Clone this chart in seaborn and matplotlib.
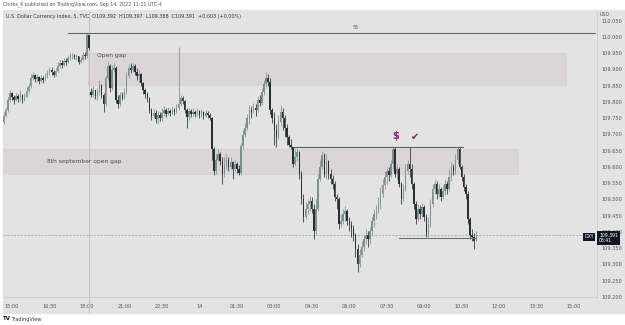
import numpy as np
import pandas as pd
import matplotlib
matplotlib.use('Agg')
import matplotlib.pyplot as plt
from matplotlib.patches import Rectangle
import seaborn as sns

# 5분봉 DXY 데이터
first_open = 109.737
gap_bar, gap_open = 38, 109.831

closes = [
    109.758, 109.776, 109.807, 109.828, 109.816, 109.807, 109.819, 109.810, 109.822, 109.807,
    109.816, 109.835, 109.850, 109.874, 109.884, 109.871, 109.877, 109.865, 109.874, 109.868,
    109.880, 109.890, 109.899, 109.893, 109.884, 109.896, 109.911, 109.920, 109.914, 109.926,
    109.923, 109.936, 109.942, 109.945, 109.939, 109.942, 109.923, 109.929, 109.945, 109.942,
    110.006, 109.966, 109.822, 109.838, 109.819, 109.831, 109.853, 109.822, 109.795, 109.874,
    109.911, 109.844, 109.899, 109.905, 109.807, 109.795, 109.822, 109.813, 109.831, 109.880,
    109.905, 109.899, 109.911, 109.893, 109.880, 109.887, 109.859, 109.838, 109.825, 109.813,
    109.776, 109.758, 109.767, 109.749, 109.761, 109.752, 109.767, 109.776, 109.764, 109.773,
    109.767, 109.776, 109.770, 109.783, 109.795, 109.813, 109.804, 109.776, 109.755, 109.773,
    109.764, 109.770, 109.764, 109.773, 109.761, 109.770, 109.758, 109.767, 109.761, 109.752,
    109.654, 109.587, 109.623, 109.639, 109.617, 109.578, 109.605, 109.623, 109.599, 109.614,
    109.593, 109.608, 109.593, 109.581, 109.666, 109.697, 109.721, 109.752, 109.776, 109.770,
    109.783, 109.776, 109.807, 109.798, 109.831, 109.856, 109.874, 109.862, 109.776, 109.752,
    109.715, 109.691, 109.740, 109.770, 109.752, 109.721, 109.691, 109.669, 109.660, 109.608,
    109.630, 109.645, 109.578, 109.501, 109.447, 109.471, 109.486, 109.495, 109.471, 109.404,
    109.471, 109.562, 109.599, 109.636, 109.578, 109.617, 109.578, 109.562, 109.547, 109.508,
    109.501, 109.425, 109.434, 109.456, 109.465, 109.434, 109.422, 109.410, 109.392, 109.348,
    109.303, 109.330, 109.355, 109.379, 109.392, 109.379, 109.404, 109.434, 109.456, 109.465,
    109.486, 109.517, 109.544, 109.568, 109.587, 109.574, 109.608, 109.654, 109.578, 109.593,
    109.547, 109.501, 109.532, 109.587, 109.608, 109.593, 109.547, 109.486, 109.440, 109.471,
    109.456, 109.477, 109.447, 109.395, 109.425, 109.486, 109.532, 109.547, 109.517, 109.532,
    109.508, 109.526, 109.547, 109.532, 109.568, 109.599, 109.587, 109.623, 109.654, 109.599,
    109.568, 109.538, 109.517, 109.440, 109.392, 109.386, 109.373, 109.391,
]
highs = [
    109.770, 109.783, 109.816, 109.838, 109.831, 109.822, 109.828, 109.825, 109.838, 109.825,
    109.828, 109.847, 109.859, 109.887, 109.893, 109.887, 109.887, 109.880, 109.884, 109.880,
    109.890, 109.899, 109.908, 109.908, 109.899, 109.905, 109.923, 109.929, 109.929, 109.936,
    109.936, 109.945, 109.951, 109.951, 109.948, 109.948, 109.942, 109.939, 109.954, 109.954,
    110.012, 109.981, 109.844, 109.850, 109.838, 109.844, 109.868, 109.856, 109.828, 109.884,
    109.923, 109.917, 109.914, 109.920, 109.911, 109.822, 109.831, 109.831, 109.844, 109.893,
    109.917, 109.920, 109.920, 109.917, 109.905, 109.899, 109.890, 109.862, 109.844, 109.831,
    109.816, 109.783, 109.779, 109.776, 109.773, 109.770, 109.783, 109.789, 109.783, 109.786,
    109.779, 109.789, 109.783, 109.795, 109.969, 109.822, 109.819, 109.807, 109.783, 109.783,
    109.779, 109.783, 109.776, 109.783, 109.776, 109.779, 109.773, 109.776, 109.773, 109.767,
    109.755, 109.660, 109.639, 109.654, 109.645, 109.630, 109.630, 109.639, 109.630, 109.630,
    109.617, 109.623, 109.614, 109.605, 109.673, 109.715, 109.734, 109.764, 109.792, 109.789,
    109.798, 109.795, 109.819, 109.822, 109.844, 109.868, 109.893, 109.887, 109.874, 109.783,
    109.770, 109.731, 109.761, 109.792, 109.783, 109.761, 109.731, 109.697, 109.685, 109.663,
    109.654, 109.654, 109.648, 109.587, 109.517, 109.492, 109.501, 109.511, 109.508, 109.486,
    109.501, 109.578, 109.623, 109.648, 109.642, 109.639, 109.623, 109.593, 109.574, 109.556,
    109.517, 109.508, 109.456, 109.471, 109.480, 109.471, 109.447, 109.434, 109.422, 109.398,
    109.364, 109.348, 109.373, 109.392, 109.410, 109.404, 109.416, 109.447, 109.471, 109.483,
    109.508, 109.538, 109.562, 109.587, 109.599, 109.599, 109.623, 109.663, 109.660, 109.608,
    109.599, 109.553, 109.547, 109.608, 109.623, 109.663, 109.608, 109.553, 109.495, 109.486,
    109.483, 109.489, 109.483, 109.456, 109.447, 109.501, 109.547, 109.562, 109.556, 109.547,
    109.538, 109.544, 109.562, 109.556, 109.593, 109.614, 109.608, 109.639, 109.663, 109.663,
    109.605, 109.578, 109.547, 109.526, 109.447, 109.410, 109.398, 109.404,
]
lows = [
    109.731, 109.755, 109.770, 109.801, 109.807, 109.795, 109.804, 109.801, 109.804, 109.798,
    109.804, 109.813, 109.828, 109.844, 109.868, 109.862, 109.862, 109.856, 109.862, 109.859,
    109.865, 109.874, 109.884, 109.884, 109.877, 109.880, 109.893, 109.905, 109.905, 109.911,
    109.914, 109.920, 109.929, 109.932, 109.932, 109.929, 109.917, 109.920, 109.926, 109.932,
    109.936, 109.960, 109.816, 109.816, 109.810, 109.807, 109.822, 109.813, 109.770, 109.789,
    109.868, 109.831, 109.838, 109.893, 109.798, 109.783, 109.789, 109.807, 109.810, 109.825,
    109.874, 109.890, 109.893, 109.884, 109.868, 109.862, 109.850, 109.825, 109.813, 109.801,
    109.767, 109.746, 109.752, 109.734, 109.731, 109.743, 109.743, 109.758, 109.755, 109.761,
    109.758, 109.764, 109.761, 109.767, 109.776, 109.789, 109.795, 109.767, 109.721, 109.746,
    109.755, 109.758, 109.755, 109.758, 109.752, 109.755, 109.749, 109.755, 109.752, 109.746,
    109.623, 109.574, 109.578, 109.617, 109.605, 109.547, 109.568, 109.593, 109.587, 109.593,
    109.562, 109.587, 109.581, 109.574, 109.574, 109.654, 109.691, 109.715, 109.731, 109.752,
    109.767, 109.758, 109.770, 109.789, 109.792, 109.822, 109.844, 109.850, 109.764, 109.734,
    109.669, 109.660, 109.685, 109.727, 109.715, 109.691, 109.669, 109.660, 109.654, 109.599,
    109.605, 109.617, 109.562, 109.486, 109.431, 109.440, 109.456, 109.465, 109.459, 109.379,
    109.395, 109.465, 109.556, 109.593, 109.568, 109.562, 109.562, 109.547, 109.532, 109.495,
    109.471, 109.410, 109.416, 109.425, 109.434, 109.422, 109.404, 109.386, 109.373, 109.324,
    109.278, 109.293, 109.324, 109.342, 109.364, 109.355, 109.364, 109.392, 109.416, 109.440,
    109.459, 109.471, 109.508, 109.532, 109.547, 109.556, 109.568, 109.593, 109.568, 109.562,
    109.538, 109.486, 109.495, 109.526, 109.578, 109.568, 109.532, 109.471, 109.425, 109.434,
    109.440, 109.447, 109.434, 109.386, 109.386, 109.416, 109.477, 109.517, 109.501, 109.508,
    109.495, 109.501, 109.514, 109.517, 109.526, 109.556, 109.574, 109.578, 109.608, 109.593,
    109.556, 109.526, 109.501, 109.425, 109.379, 109.373, 109.348, 109.379,
]

time_ticks = [0, 18, 36, 54, 72, 90, 108, 126, 144, 162, 180, 198, 216, 234, 252, 270]
time_labels = ['15:00', '16:30', '18:00', '21:00', '22:30', '14', '01:30', '03:00',
               '04:30', '06:00', '07:30', '09:00', '10:30', '12:00', '13:30', '15:00']
price_ticks = [110.050, 110.000, 109.950, 109.900, 109.850, 109.800, 109.750, 109.700,
               109.650, 109.600, 109.550, 109.500, 109.450, 109.400, 109.350, 109.300,
               109.250, 109.200]

# 박스 (gap 구간)
zone_names = ['Open gap', '8th september open gap']
zone_x0 = [36.5, -4.3]
zone_x1 = [266, 243]
zone_lo = [109.853, 109.578]
zone_hi = [109.951, 109.654]
zone_text_x = [41, 16.8]
zone_text_y = [109.942, 109.616]

top_level, top_x = 110.012, (27, 280)
res_level, res_x = 109.663, (135, 216.5)
sup_level, sup_x = 109.383, (186, 223)
last_price = 109.391
session_bar = 37

# 데이터프레임
df = pd.DataFrame({'bar': np.arange(-4, -4 + len(closes)), 'close': closes,
                   'high': highs, 'low': lows})
opens = np.r_[first_open, df['close'].values[:-1]]
opens[df['bar'].values == gap_bar] = gap_open
df['open'] = opens
df['high'] = np.maximum(df['high'], df[['open', 'close']].max(axis=1))
df['low'] = np.minimum(df['low'], df[['open', 'close']].min(axis=1))
df['up'] = df['close'] >= df['open']

sns.set_style('white')
plt.rcParams['font.family'] = ['DejaVu Sans']

W, H = 625, 325
bg = '#e3e3e3'
fig = plt.figure(figsize=(6.25, 3.25), dpi=100)
fig.patches.append(Rectangle((3 / W, 1 - 313 / H), 622 / W, 303 / H,
                             transform=fig.transFigure, color=bg, zorder=-10))
ax = fig.add_axes([3 / W, 1 - 297 / H, 594 / W, 286 / H])
ax.set_zorder(1)
ax.set_facecolor(bg)

# zones
for n, x0, x1, lo, hi, tx, ty in zip(zone_names, zone_x0, zone_x1, zone_lo, zone_hi,
                                     zone_text_x, zone_text_y):
    ax.add_patch(Rectangle((x0, lo), x1 - x0, hi - lo, facecolor='#dad5d7',
                           edgecolor='#d2cdcf', lw=0.4, zorder=1))
    ax.text(tx, ty, n, fontsize=4.3, color='#4a4a4a', va='center', zorder=5)

ax.axvline(session_bar, ymin=-16 / 286, ymax=1, color='#bdbdbd', lw=0.6,
           clip_on=False, zorder=2)
ax.axhline(last_price, color='#9a9a9a', lw=0.5, ls=(0, (3, 2)), zorder=2)

# candles
up_c, dn_c = '#7f8f8e', '#263030'
cols = np.where(df['up'], up_c, dn_c)
ax.vlines(df['bar'], df['low'], df['high'], colors=cols, lw=0.55, zorder=3)
body = (df['close'] - df['open']).abs().clip(lower=0.0015)
ax.bar(df['bar'], body, bottom=df[['open', 'close']].min(axis=1), width=0.7,
       color=cols, lw=0, zorder=4)

# drawn lines
ax.plot(top_x, [top_level] * 2, color='#5d6666', lw=0.8, zorder=5)
ax.text(165, top_level + 0.012, '55', fontsize=3.5, color='#666', ha='center')
ax.plot(res_x, [res_level] * 2, color='#566060', lw=0.8, zorder=5)
ax.plot(sup_x, [sup_level] * 2, color='#6a7272', lw=0.8, zorder=5)

ax.text(184.3, 109.694, '$', fontsize=7, color='#8e1b5e', fontweight='bold',
        ha='center', va='center', zorder=6)
ax.text(193.5, 109.692, '\u2714', fontsize=7, color='#8e1b5e', ha='center',
        va='center', zorder=6)

ax.set_xlim(-4.3, 281)
ax.set_ylim(109.205, 110.080)
ax.yaxis.tick_right()
ax.set_yticks(price_ticks)
ax.set_yticklabels(['%.3f' % p for p in price_ticks])
ax.set_xticks(time_ticks)
ax.set_xticklabels(time_labels)
ax.tick_params(axis='both', length=0, labelsize=3.6, labelcolor='#555555')
ax.tick_params(axis='y', pad=3)
ax.tick_params(axis='x', pad=5)
for s in ['top', 'left']:
    ax.spines[s].set_visible(False)
for s in ['right', 'bottom']:
    ax.spines[s].set_color('#cccccc')
    ax.spines[s].set_linewidth(0.6)
ax.set_xlabel('')
ax.set_ylabel('')

# 텍스트
fig.text(3 / W, 1 - 4.5 / H, 'Chirbs_K published on TradingView.com, Sep 14, 2022 11:11 UTC-4',
         fontsize=3.4, color='#555555', va='center')
fig.text(6 / W, 1 - 16.5 / H,
         'U.S. Dollar Currency Index, 5, TVC  O109.392  H109.397  L109.388  C109.391  +0.003 (+0.00%)',
         fontsize=3.5, color='#333333', va='center', zorder=10)
fig.text(600 / W, 1 - 14 / H, 'USD', fontsize=3.4, color='#555555', va='center', zorder=10)
fig.text(589 / W, 1 - 237 / H, 'DXY', fontsize=3.3, color='white', va='center', ha='center',
         bbox=dict(facecolor='#131722', edgecolor='none', pad=1.2), zorder=10)
fig.text(599 / W, 1 - 238 / H, '109.391\n03:41', fontsize=3.3, color='white', va='center',
         linespacing=1.1, bbox=dict(facecolor='#131722', edgecolor='none', pad=1.2), zorder=10)
fig.text(3 / W, 1 - 319 / H, 'TV', fontsize=4, color='#131722', fontweight='bold', va='center')
fig.text(11 / W, 1 - 319 / H, 'TradingView', fontsize=3.6, color='#333333', va='center')

fig.savefig('out.png', dpi=100, facecolor='white')
